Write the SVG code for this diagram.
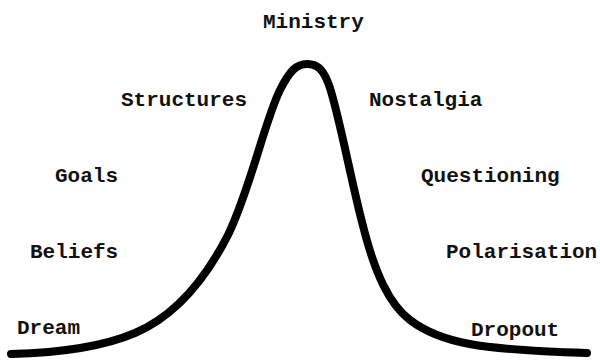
<svg xmlns="http://www.w3.org/2000/svg" width="600" height="364" viewBox="0 0 600 364">
<style>
.lbl{font-family:"Liberation Mono","DejaVu Sans Mono",monospace;font-size:21px;font-weight:bold;fill:#111}
.curve{fill:none;stroke:#000;stroke-width:8;stroke-linecap:round;stroke-linejoin:round}
</style>
<rect width="600" height="364" fill="#fff"/>
<g id="connectors">
<path class="curve" d="M 11,354 C 50,353 100,348 135,333 C 175,316 205,280 228,235 C 250,190 265,120 280,90 C 290,70 297,64 307,64 C 318,64 324,70 330,88 C 340,120 350,175 362,222 C 375,275 390,305 410,320 C 440,343 480,350 587,353"/>
</g>
<g id="ministry"><text class="lbl" x="263" y="28">Ministry</text></g>
<g id="structures"><text class="lbl" x="121" y="106">Structures</text></g>
<g id="nostalgia"><text class="lbl" x="369" y="106">Nostalgia</text></g>
<g id="goals"><text class="lbl" x="55" y="182">Goals</text></g>
<g id="questioning"><text class="lbl" x="421" y="182">Questioning</text></g>
<g id="beliefs"><text class="lbl" x="30" y="258">Beliefs</text></g>
<g id="polarisation"><text class="lbl" x="446" y="258">Polarisation</text></g>
<g id="dream"><text class="lbl" x="17" y="334">Dream</text></g>
<g id="dropout"><text class="lbl" x="471" y="336">Dropout</text></g>
</svg>
